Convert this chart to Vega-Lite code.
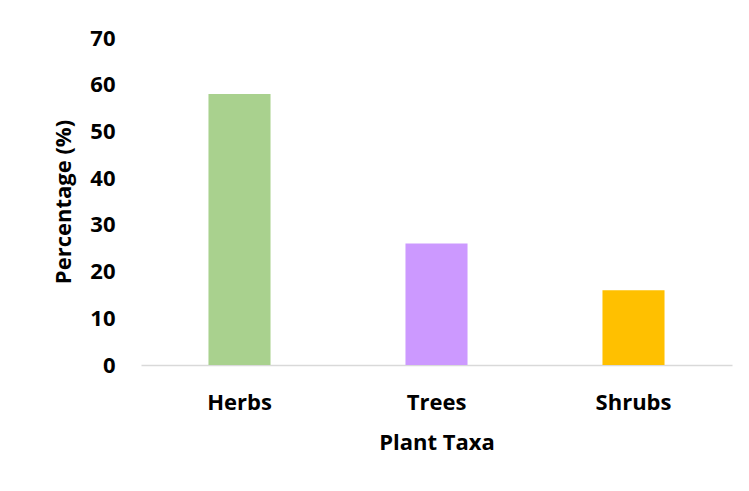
{
  "$schema": "https://vega.github.io/schema/vega-lite/v6.json",
  "width": 591,
  "height": 327,
  "autosize": "none",
  "padding": {"left": 141, "top": 38, "right": 17, "bottom": 126},
  "background": "white",
  "data": {"values": [
    {"taxa": "Herbs", "pct": 58},
    {"taxa": "Trees", "pct": 26},
    {"taxa": "Shrubs", "pct": 16}
  ]},
  "mark": {"type": "bar"},
  "encoding": {
    "x": {"field": "taxa", "type": "nominal", "sort": null,
      "scale": {"paddingInner": 0.685, "paddingOuter": 0.3425},
      "axis": {"title": "Plant Taxa", "labelAngle": 0, "ticks": false, "domainColor": "#d9d9d9", "domainWidth": 1.5,
        "labelFont": "Open Sans", "labelFontWeight": "bold", "labelFontSize": 22, "labelColor": "black", "labelPadding": 27,
        "titleFont": "Open Sans", "titleFontWeight": "bold", "titleFontSize": 22, "titleColor": "black", "titlePadding": 19}},
    "y": {"field": "pct", "type": "quantitative",
      "scale": {"domain": [0, 70]},
      "axis": {"title": "Percentage (%)", "values": [0,10,20,30,40,50,60,70], "grid": false, "domain": false, "ticks": false,
        "labelFont": "Open Sans", "labelFontWeight": "bold", "labelFontSize": 22, "labelColor": "black", "labelPadding": 26,
        "titleFont": "Open Sans", "titleFontWeight": "bold", "titleFontSize": 22, "titleColor": "black", "titlePadding": 14}},
    "color": {"field": "taxa", "type": "nominal", "legend": null,
      "scale": {"domain": ["Herbs", "Trees", "Shrubs"], "range": ["#A9D18E", "#CC99FF", "#FFC000"]}}
  },
  "config": {"view": {"stroke": null}}
}
